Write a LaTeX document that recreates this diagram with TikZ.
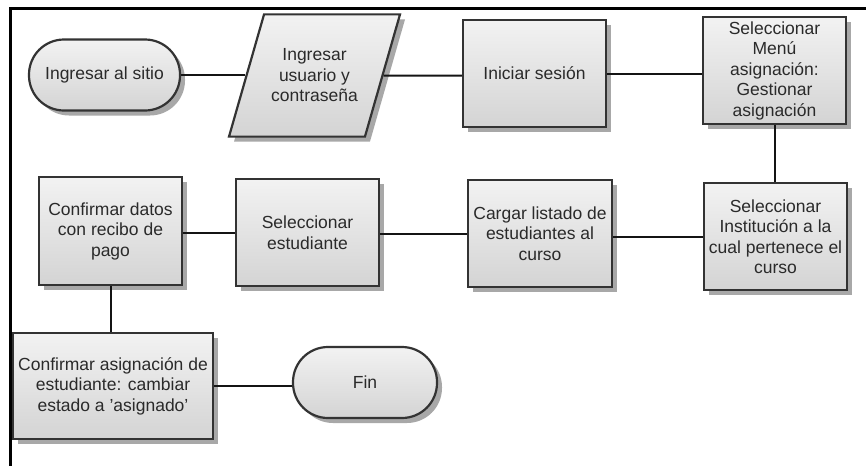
\documentclass[tikz,border=0pt]{standalone}
\usepackage{fontspec}
\setmainfont{Liberation Sans}
\usetikzlibrary{shapes.geometric,shadows}
\definecolor{edgec}{HTML}{333333}
\definecolor{txtc}{HTML}{2A2A2A}
\definecolor{shadowc}{HTML}{A8A8A8}
\begin{document}
\begin{tikzpicture}[x=1pt,y=-1pt,
  base/.style={draw=edgec, line width=2.2pt, top color=black!5, bottom color=black!17,
    drop shadow={shadow xshift=5pt,shadow yshift=-5pt,fill=shadowc,opacity=1},
    align=center, font=\fontsize{17.5}{20.5}\selectfont, text=txtc, inner sep=0pt},
  box/.style={base, rectangle, minimum width=143pt, minimum height=107pt},
  term/.style={base, rectangle, rounded corners=35pt, minimum width=151pt, minimum height=71pt},
  io/.style={base, trapezium, trapezium left angle=74, trapezium right angle=106,
    trapezium stretches body=true, inner xsep=0pt, inner ysep=34.5pt, minimum width=171pt},
  link/.style={draw=black!92, line width=2pt}]
\fill[white] (0,0) rectangle (866,466);
\useasboundingbox (0,0) rectangle (866,466);
\draw[line width=3pt, black] (866,8) -- (10,8) -- (10,466);

\node[term] (start) at (104.5,75) {Ingresar al sitio};
\node[io] (para) at (314.5,75.5) {Ingresar\\usuario y\\contraseña};
\node[box] (ini) at (534.5,73.5) {Iniciar sesión};
\node[box] (menu) at (774.5,70.5) {Seleccionar\\Menú\\asignación:\\Gestionar\\asignación};
\node[box] (inst) at (775.5,236.5) {Seleccionar\\Institución a la\\cual pertenece el\\curso};
\node[box, minimum width=144pt] (cargar) at (540,233.5) {Cargar listado de\\estudiantes al\\curso};
\node[box] (selest) at (307.5,232.5) {Seleccionar\\estudiante};
\node[box, minimum height=108pt] (confd) at (110.5,231) {Confirmar datos\\con recibo de\\pago};
\node[box, minimum width=200pt, minimum height=106pt] (confa) at (113,386) {Confirmar asignación de\\estudiante: cambiar\\estado a 'asignado'};
\node[term, minimum width=144pt] (fin) at (365,382.5) {Fin};

\draw[link] (start) -- (start -| para.west);
\draw[link] (para) -- (para -| ini.west);
\draw[link] (ini) -- (ini -| menu.west);
\draw[link] (menu) -- (menu |- inst.north);
\draw[link] (inst) -- (inst -| cargar.east);
\draw[link] (cargar) -- (cargar -| selest.east);
\draw[link] (selest) -- (selest -| confd.east);
\draw[link] (confd) -- (confd |- confa.north);
\draw[link] (confa) -- (confa -| fin.west);
\end{tikzpicture}
\end{document}
